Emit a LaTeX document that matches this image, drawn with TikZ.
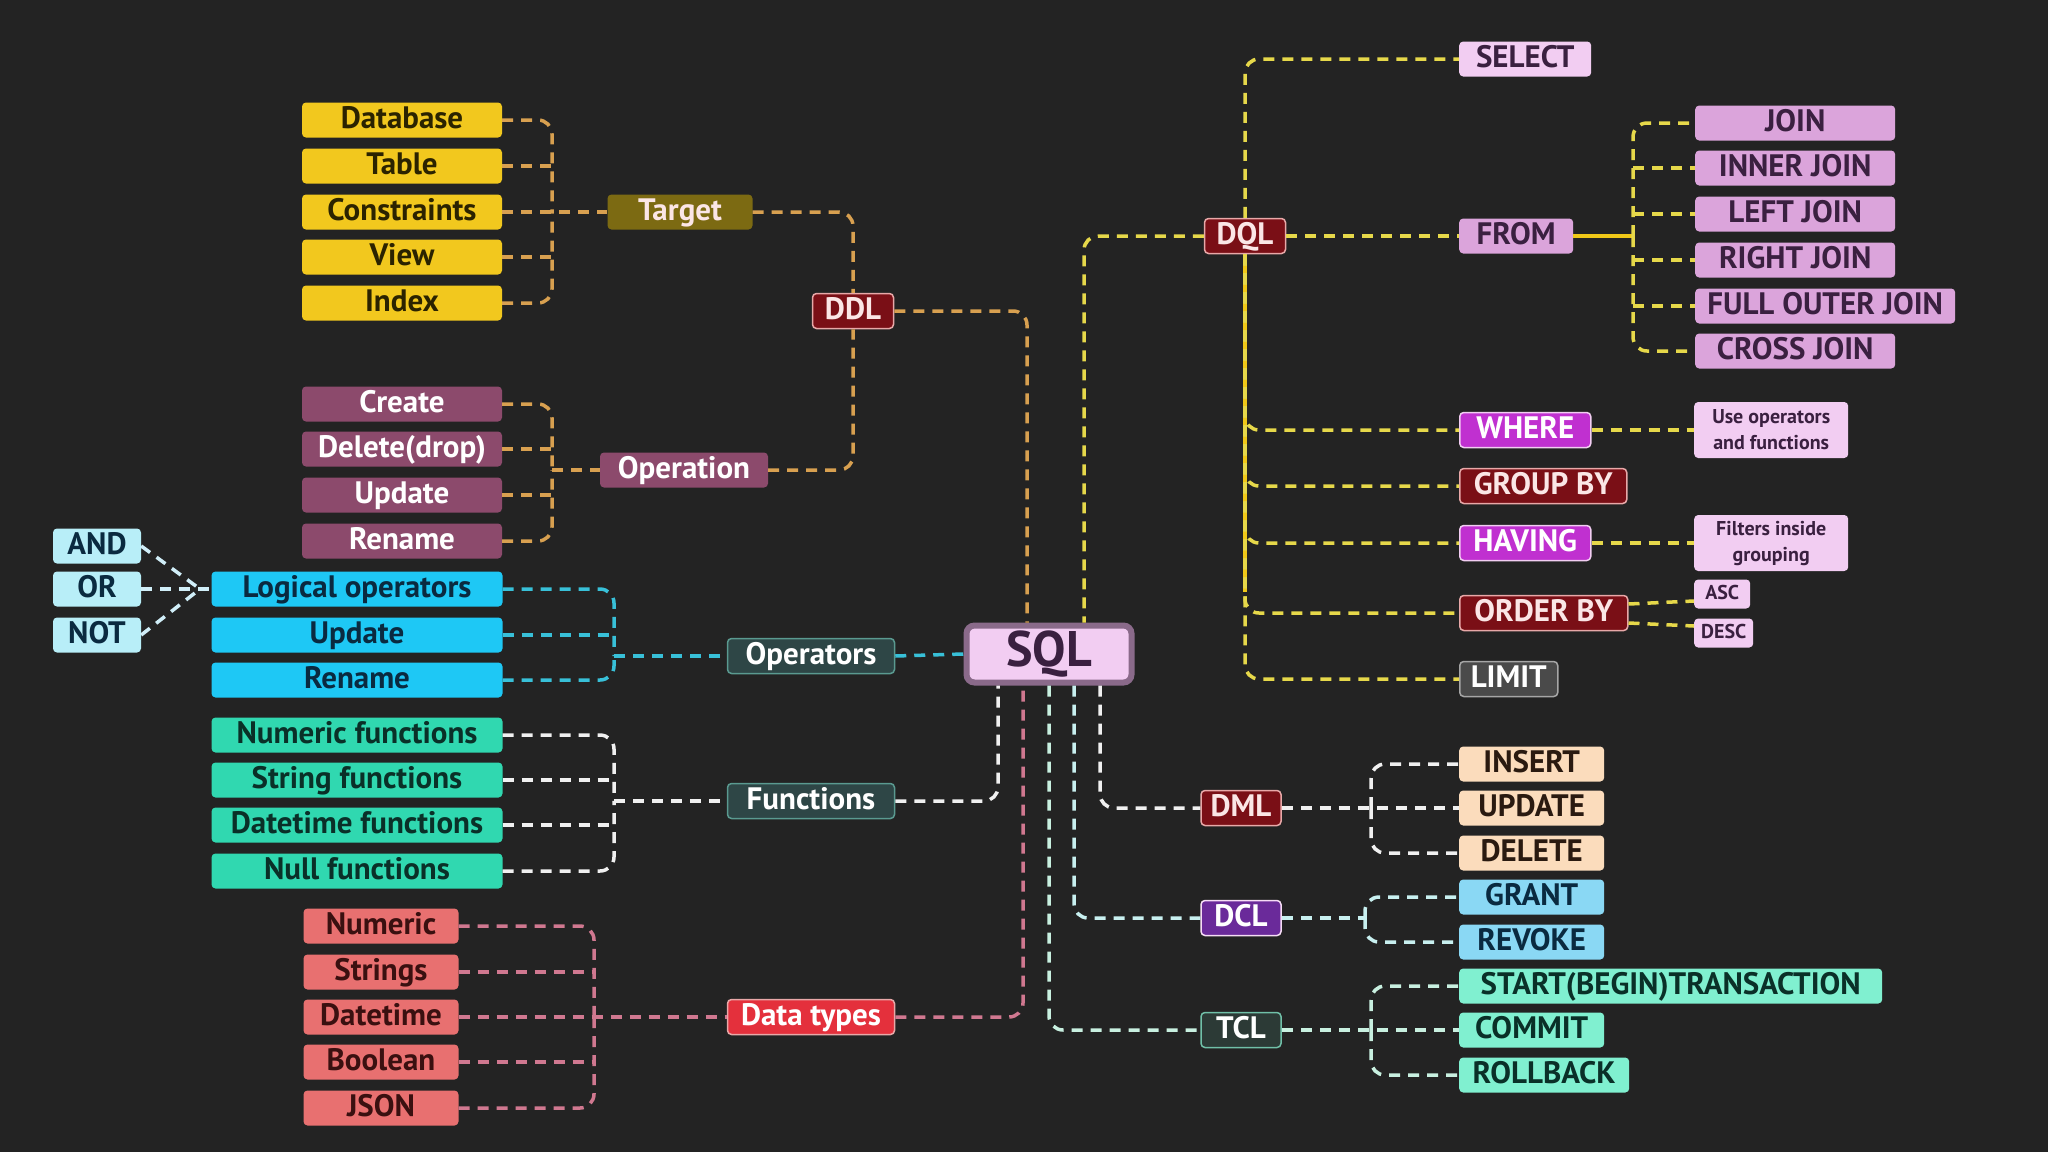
\documentclass[tikz,border=0pt]{standalone}
\usepackage{xcolor}
\usepackage{fontspec}
\setmainfont{PT Sans}
\usepackage{tikz}
\usetikzlibrary{positioning,calc}

\definecolor{bgdark}{HTML}{232323}
\definecolor{ylwbox}{HTML}{F2C81E}
\definecolor{ylwtxt}{HTML}{2B2300}
\definecolor{olive}{HTML}{7C6A12}
\definecolor{wine}{HTML}{7A0F16}
\definecolor{winetxt}{HTML}{FBE6E6}
\definecolor{winedge}{HTML}{E8A8A8}
\definecolor{mauve}{HTML}{8C4A6C}
\definecolor{icecyan}{HTML}{B8EEF8}
\definecolor{cyanbox}{HTML}{1EC8F5}
\definecolor{navytxt}{HTML}{0A2A40}
\definecolor{slate}{HTML}{2E4646}
\definecolor{slatedge}{HTML}{5A9A90}
\definecolor{mint}{HTML}{30D8B0}
\definecolor{minttxt}{HTML}{0A3028}
\definecolor{coral}{HTML}{E87070}
\definecolor{coraltxt}{HTML}{3A1010}
\definecolor{scarlet}{HTML}{E4303C}
\definecolor{blush}{HTML}{F2CDF2}
\definecolor{orchid}{HTML}{DBA4DB}
\definecolor{plumtxt}{HTML}{3A2040}
\definecolor{violet2}{HTML}{C030D0}
\definecolor{steel}{HTML}{4A4A4A}
\definecolor{peach}{HTML}{FBDCBC}
\definecolor{peachtxt}{HTML}{2A1A10}
\definecolor{sky}{HTML}{8AD8F4}
\definecolor{grape}{HTML}{6A2A9A}
\definecolor{pine}{HTML}{2C3A36}
\definecolor{pinedge}{HTML}{70C0A8}
\definecolor{aqua}{HTML}{80F0D0}
\definecolor{sqledge}{HTML}{8A6A8A}
\definecolor{ddlc}{HTML}{D8A050}
\definecolor{dqlc}{HTML}{E6D84A}
\definecolor{dqlsolid}{HTML}{F0C818}
\definecolor{opc}{HTML}{38C0D8}
\definecolor{fnc}{HTML}{F0F0F0}
\definecolor{dtc}{HTML}{D07890}
\definecolor{dclc}{HTML}{C8F0F0}
\definecolor{tclc}{HTML}{C8F0E0}
\definecolor{logc}{HTML}{D0EEF8}

\begin{document}
\begin{tikzpicture}[
    x=1pt, y=-1pt,
    box/.style={rounded corners=4pt, minimum height=35pt, inner xsep=6pt, inner ysep=0pt,
        text height=21pt, text depth=5pt, font=\bfseries\fontsize{31}{33}\selectfont},
    tag/.style={box, draw=#1, line width=1.5pt},
    tgtitem/.style={box, minimum width=200pt, fill=ylwbox, text=ylwtxt},
    opitem/.style={box, minimum width=200pt, fill=mauve, text=white},
    logitem/.style={box, minimum width=88pt, fill=icecyan, text=navytxt},
    cyitem/.style={box, minimum width=291pt, fill=cyanbox, text=navytxt},
    fnitem/.style={box, minimum width=291pt, fill=mint, text=minttxt},
    dtitem/.style={box, minimum width=155pt, fill=coral, text=coraltxt},
    joinitem/.style={box, minimum width=200pt, fill=orchid, text=plumtxt, anchor=west},
    clause/.style={box, anchor=west},
    winetag/.style={tag=winedge, fill=wine, text=winetxt, minimum width=81pt},
    note/.style={rounded corners=4pt, fill=blush, text=plumtxt, anchor=west, align=center,
        font=\bfseries\fontsize{20}{26}\selectfont, inner xsep=5pt, inner ysep=3pt, minimum width=154pt, minimum height=56pt},
    tiny/.style={rounded corners=4pt, fill=blush, text=plumtxt, anchor=west, font=\bfseries\fontsize{20}{22}\selectfont,
        inner xsep=3pt, inner ysep=0pt, minimum height=29pt, text height=14pt, text depth=3pt},
    conn/.style={line width=3.5pt, dash pattern=on 11pt off 8pt, rounded corners=14pt},
    ddlline/.style={conn, ddlc},
    dqlline/.style={conn, dqlc},
    opline/.style={conn, opc},
    fnline/.style={conn, fnc},
    dtline/.style={conn, dtc},
    dclline/.style={conn, dclc},
    tclline/.style={conn, tclc},
    logline/.style={conn, logc},
    solidline/.style={line width=3.5pt, dqlsolid, rounded corners=14pt}
]
    \fill[bgdark] (0,0) rectangle (2048,1152);
    \useasboundingbox (0,0) rectangle (2048,1152);

    % Root
    \node[rounded corners=8pt, fill=blush, draw=sqledge, line width=6pt, text=plumtxt,
        minimum width=165pt, minimum height=57pt, inner sep=0pt, font=\bfseries\fontsize{50}{52}\selectfont] (SQL) at (1049,654) {SQL};

    % DDL
    \node[tgtitem] (db) at (402,120) {Database};
    \node[tgtitem] (tbl) at (402,166) {Table};
    \node[tgtitem] (cons) at (402,212) {Constraints};
    \node[tgtitem] (view) at (402,257) {View};
    \node[tgtitem] (idx) at (402,303) {Index};
    \node[box, fill=olive, text=winetxt, minimum width=145pt] (Target) at (680,212) {Target};
    \node[winetag] (DDL) at (853,311) {DDL};
    \node[opitem] (create) at (402,404) {Create};
    \node[opitem] (drop) at (402,449) {Delete(drop)};
    \node[opitem] (upd) at (402,495) {Update};
    \node[opitem] (ren) at (402,541) {Rename};
    \node[box, fill=mauve, text=white, minimum width=168pt] (Operation) at (684,470) {Operation};

    \coordinate (tgtJ) at (552,212);
    \coordinate (opJ) at (552,470);
    \draw[ddlline] (db.east) -| (tgtJ);
    \draw[ddlline] (idx.east) -| (tgtJ);
    \draw[ddlline] (tbl.east) -- (tbl.east -| tgtJ);
    \draw[ddlline] (view.east) -- (view.east -| tgtJ);
    \draw[ddlline] (cons.east) -- (Target.west);
    \draw[ddlline] (create.east) -| (opJ);
    \draw[ddlline] (ren.east) -| (opJ);
    \draw[ddlline] (drop.east) -- (drop.east -| opJ);
    \draw[ddlline] (upd.east) -- (upd.east -| opJ);
    \draw[ddlline] (opJ) -- (Operation.west);
    \draw[ddlline] (Target.east) -| (DDL.north);
    \draw[ddlline] (Operation.east) -| (DDL.south);
    \draw[ddlline] (DDL.east) -| ([xshift=-22pt]SQL.north);

    % Operators
    \node[logitem] (and) at (97,546) {AND};
    \node[logitem] (or) at (97,589) {OR};
    \node[logitem] (not) at (97,635) {NOT};
    \node[cyitem] (logic) at (357,589) {Logical operators};
    \node[cyitem] (upd2) at (357,635) {Update};
    \node[cyitem] (ren2) at (357,680) {Rename};
    \node[tag=slatedge, fill=slate, text=white, minimum width=167pt] (Operators) at (811,656) {Operators};

    \coordinate (logJ) at (200,589);
    \coordinate (opsJ) at (614,656);
    \draw[logline] (and.east) -- (logJ);
    \draw[logline] (not.east) -- (logJ);
    \draw[logline] (or.east) -- (logic.west);
    \draw[opline] (logic.east) -| (opsJ);
    \draw[opline] (ren2.east) -| (opsJ);
    \draw[opline] (upd2.east) -- (upd2.east -| opsJ);
    \draw[opline] (opsJ) -- (Operators.west);
    \draw[opline] (Operators.east) -- (SQL.west);

    % Functions
    \node[fnitem] (numf) at (357,735) {Numeric functions};
    \node[fnitem] (strf) at (357,780) {String functions};
    \node[fnitem] (datf) at (357,825) {Datetime functions};
    \node[fnitem] (nulf) at (357,871) {Null functions};
    \node[tag=slatedge, fill=slate, text=white, minimum width=167pt] (Functions) at (811,801) {Functions};

    \coordinate (fnJ) at (614,801);
    \draw[fnline] (numf.east) -| (fnJ);
    \draw[fnline] (nulf.east) -| (fnJ);
    \draw[fnline] (strf.east) -- (strf.east -| fnJ);
    \draw[fnline] (datf.east) -- (datf.east -| fnJ);
    \draw[fnline] (fnJ) -- (Functions.west);
    \draw[fnline] (Functions.east) -| ([xshift=-51pt]SQL.south);

    % Data types
    \node[dtitem] (num) at (381,926) {Numeric};
    \node[dtitem] (str) at (381,972) {Strings};
    \node[dtitem] (dtm) at (381,1017) {Datetime};
    \node[dtitem] (bool) at (381,1062) {Boolean};
    \node[dtitem] (json) at (381,1108) {JSON};
    \node[tag=winedge, fill=scarlet, text=white, minimum width=167pt] (Datatypes) at (811,1017) {Data types};

    \coordinate (dtJ) at (594,1017);
    \draw[dtline] (num.east) -| (dtJ);
    \draw[dtline] (json.east) -| (dtJ);
    \draw[dtline] (str.east) -- (str.east -| dtJ);
    \draw[dtline] (bool.east) -- (bool.east -| dtJ);
    \draw[dtline] (dtm.east) -- (Datatypes.west);
    \draw[dtline] (Datatypes.east) -| ([xshift=-26pt]SQL.south);

    % DQL
    \node[winetag] (DQL) at (1245,236) {DQL};
    \node[clause, fill=blush, text=plumtxt, minimum width=132pt] (sel) at (1459,59) {SELECT};
    \node[clause, fill=orchid, text=plumtxt, minimum width=114pt] (from) at (1459,236) {FROM};
    \node[joinitem] (j1) at (1695,123) {JOIN};
    \node[joinitem] (j2) at (1695,168) {INNER JOIN};
    \node[joinitem] (j3) at (1695,214) {LEFT JOIN};
    \node[joinitem] (j4) at (1695,260) {RIGHT JOIN};
    \node[joinitem, minimum width=260pt] (j5) at (1695,306) {FULL OUTER JOIN};
    \node[joinitem] (j6) at (1695,351) {CROSS JOIN};
    \node[clause, tag=blush, fill=violet2, text=white, minimum width=131pt] (where) at (1459,430) {WHERE};
    \node[note] (usenote) at (1694,430) {Use operators\\and functions};
    \node[clause, tag=winedge, fill=wine, text=winetxt, minimum width=167pt] (group) at (1459,486) {GROUP BY};
    \node[clause, tag=blush, fill=violet2, text=white, minimum width=131pt] (having) at (1459,543) {HAVING};
    \node[note] (filtnote) at (1694,543) {Filters inside\\grouping};
    \node[clause, tag=winedge, fill=wine, text=winetxt, minimum width=168pt] (order) at (1459,613) {ORDER BY};
    \node[tiny, minimum width=56pt] (asc) at (1694,594) {ASC};
    \node[tiny, minimum width=59pt] (desc) at (1694,633) {DESC};
    \node[clause, tag=gray!70, fill=steel, text=white, minimum width=98pt] (limit) at (1459,679) {LIMIT};

    \coordinate (joinJ) at (1633,236);
    \coordinate (dqlEnd) at (1245,592);
    \draw[dqlline] (DQL.west) -| ([xshift=35pt]SQL.north);
    \draw[dqlline] (DQL.north) |- (sel.west);
    \draw[dqlline] (DQL.east) -- (from.west);
    \draw[solidline] (from.east) -- (joinJ);
    \draw[dqlline] (joinJ) |- (j1.west);
    \draw[dqlline] (joinJ) |- (j6.west);
    \draw[dqlline] (j2.west -| joinJ) -- (j2.west);
    \draw[dqlline] (j3.west -| joinJ) -- (j3.west);
    \draw[dqlline] (j4.west -| joinJ) -- (j4.west);
    \draw[dqlline] (j5.west -| joinJ) -- (j5.west);
    \draw[solidline] (DQL.south) -- (dqlEnd);
    \draw[dqlline] (DQL.south) |- (where.west);
    \draw[dqlline] (DQL.south) |- (group.west);
    \draw[dqlline] (DQL.south) |- (having.west);
    \draw[dqlline] (DQL.south) |- (order.west);
    \draw[dqlline] (DQL.south) |- (limit.west);
    \draw[dqlline] (where.east) -- (usenote.west);
    \draw[dqlline] (having.east) -- (filtnote.west);
    \draw[dqlline] ([yshift=9pt]order.east) -- ([yshift=-7pt]asc.west);
    \draw[dqlline] ([yshift=-10pt]order.east) -- ([yshift=7pt]desc.west);

    % DML, DCL, TCL
    \node[winetag, minimum width=80pt] (DML) at (1241,808) {DML};
    \node[clause, fill=peach, text=peachtxt, minimum width=145pt] (ins) at (1459,764) {INSERT};
    \node[clause, fill=peach, text=peachtxt, minimum width=145pt] (upd3) at (1459,808) {UPDATE};
    \node[clause, fill=peach, text=peachtxt, minimum width=145pt] (del) at (1459,853) {DELETE};
    \node[tag=blush!70, fill=grape, text=white, minimum width=80pt] (DCL) at (1241,918) {DCL};
    \node[clause, fill=sky, text=navytxt, minimum width=145pt] (grant) at (1459,897) {GRANT};
    \node[clause, fill=sky, text=navytxt, minimum width=145pt] (revoke) at (1459,942) {REVOKE};
    \node[tag=pinedge, fill=pine, text=white, minimum width=80pt] (TCL) at (1241,1030) {TCL};
    \node[clause, fill=aqua, text=minttxt, minimum width=423pt] (start) at (1459,986) {START(BEGIN)TRANSACTION};
    \node[clause, fill=aqua, text=minttxt, minimum width=145pt] (commit) at (1459,1030) {COMMIT};
    \node[clause, fill=aqua, text=minttxt, minimum width=170pt] (rollback) at (1459,1075) {ROLLBACK};

    \coordinate (dmlJ) at (1371,808);
    \coordinate (dclJ) at (1365,918);
    \coordinate (tclJ) at (1371,1030);
    \draw[fnline] ([xshift=51pt]SQL.south) |- (DML.west);
    \draw[dclline] ([xshift=25pt]SQL.south) |- (DCL.west);
    \draw[tclline] (SQL.south) |- (TCL.west);
    \draw[fnline] (DML.east) -- (upd3.west);
    \draw[fnline] (dmlJ) |- (ins.west);
    \draw[fnline] (dmlJ) |- (del.west);
    \draw[dclline] (DCL.east) -- (dclJ);
    \draw[dclline] (dclJ) |- (grant.west);
    \draw[dclline] (dclJ) |- (revoke.west);
    \draw[tclline] (TCL.east) -- (commit.west);
    \draw[tclline] (tclJ) |- (start.west);
    \draw[tclline] (tclJ) |- (rollback.west);
\end{tikzpicture}
\end{document}
